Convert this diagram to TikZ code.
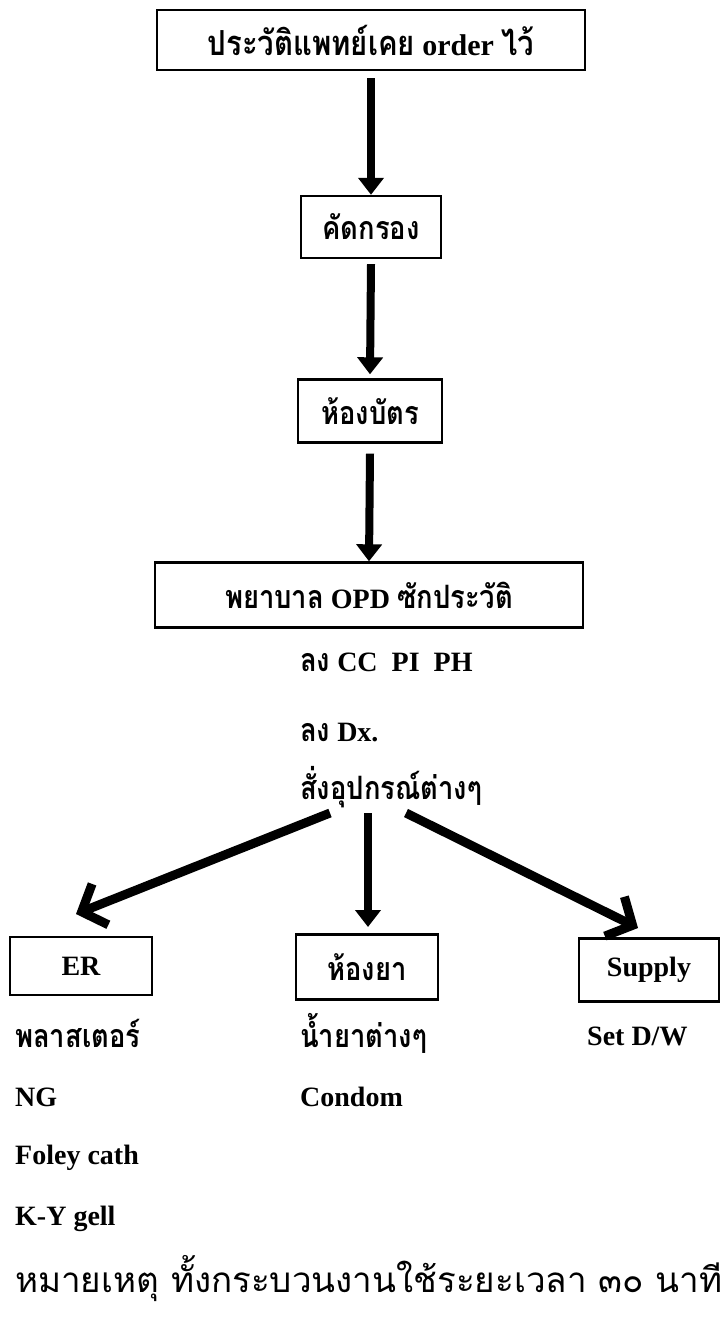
\documentclass[tikz,border=0pt]{standalone}
\usepackage{fontspec}
\usetikzlibrary{arrows.meta}
\setmainfont{Liberation Serif}
\newfontfamily\thaifont[Script=Thai, Scale=1.15, FakeStretch=0.85]{Loma}
\newfontfamily\notefont[Script=Thai]{Loma}
\newcommand\tht[1]{{\thaifont\bfseries #1}}
\tikzset{
  boxnode/.style={draw, line width=2.4pt, inner sep=0pt, font=\bfseries\fontsize{28}{30}\selectfont},
  txt/.style={anchor=west, inner sep=0pt, font=\bfseries\fontsize{28}{30}\selectfont},
  varrow/.style={line width=8pt, -{Triangle[length=17pt,width=25pt]}},
  darrow/.style={line width=9pt, -{Straight Barb[length=20pt,width=44pt]}}
}
\begin{document}
\begin{tikzpicture}[x=1pt,y=-1pt]
\path[use as bounding box, fill=white] (0,0) rectangle (723,1320);

\node[boxnode, minimum width=428pt, minimum height=60pt, font=\bfseries\fontsize{30}{32}\selectfont] (top) at (371,40)
  {\tht{ประวัติแพทย์เคย} order \tht{ไว้}};
\node[boxnode, minimum width=140pt, minimum height=62pt] (b2) at (371,227) {\tht{คัดกรอง}};
\node[boxnode, minimum width=144pt, minimum height=63pt] (b3) at (370,411) {\tht{ห้องบัตร}};
\node[boxnode, minimum width=428pt, minimum height=65pt] (b4) at (369,595)
  {\tht{พยาบาล} OPD \tht{ซักประวัติ}};

\node[txt] (l1) at (300,662) {\tht{ลง} CC\ \ PI\ \ PH};
\node[txt] (l2) at (300,733) {\tht{ลง} Dx.};
\node[txt] (l3) at (300,787) {\tht{สั่งอุปกรณ์ต่างๆ}};

\node[boxnode, minimum width=142pt, minimum height=58pt] (er) at (81,966) {ER};
\node[boxnode, minimum width=142pt, minimum height=65pt] (ya) at (367,967) {\tht{ห้องยา}};
\node[boxnode, minimum width=140pt, minimum height=63pt] (sup) at (649,970) {Supply};

\node[txt] (e1) at (15,1033) {\tht{พลาสเตอร์}};
\node[txt] (e2) at (15,1097) {NG};
\node[txt] (e3) at (15,1158) {Foley cath};
\node[txt] (e4) at (15,1219) {K-Y gell};
\node[txt] (y1) at (300,1033) {\tht{น้ำยาต่างๆ}};
\node[txt] (y2) at (300,1097) {Condom};
\node[txt] (s1) at (587,1036) {Set D/W};

\node[anchor=west, inner sep=0pt, font=\notefont\fontsize{35}{38}\selectfont] (note) at (15,1279)
  {หมายเหตุ ทั้งกระบวนงานใช้ระยะเวลา ๓๐ นาที};

\draw[varrow] ([yshift=-7pt]top.south) -- (b2.north);
\draw[varrow] ([yshift=-5pt]b2.south) -- ([yshift=4pt]b3.north);
\draw[varrow] ([yshift=-10pt]b3.south) -- (b4.north);

\coordinate (sl) at (330,813);
\coordinate (sm) at (368,813);
\coordinate (sr) at (406,813);
\coordinate (tl) at (76,914);
\coordinate (tm) at (368,927);
\coordinate (tr) at (638,928);
\draw[darrow] (sl) -- (tl);
\draw[varrow] (sm) -- (tm);
\draw[darrow] (sr) -- (tr);
\end{tikzpicture}
\end{document}
